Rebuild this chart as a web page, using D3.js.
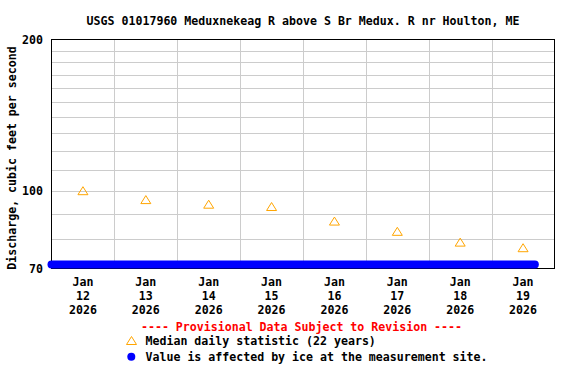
<!DOCTYPE html>
<html>
<head>
<meta charset="utf-8">
<script src="https://cdn.jsdelivr.net/npm/d3@7"></script>
<style>
    body { margin: 0; background: #ffffff; }
    text { font-family: "DejaVu Sans Mono", monospace; font-weight: bold; font-size: 11.6px; }
</style>
</head>
<body>
<svg id="chart" width="576" height="384"></svg>
<script>
//日期与中位数
const days = ["2026-01-12", "2026-01-13", "2026-01-14", "2026-01-15",
    "2026-01-16", "2026-01-17", "2026-01-18", "2026-01-19"];
const medianValues = [100, 96, 94, 93, 87, 83, 79, 77];

//受冰影响的时段
const iceStart = "2026-01-12T00:00";
const iceEnd = "2026-01-19T16:30";

//y轴
const yTickLabels = [70, 100, 200];
const yGridValues = [80, 90, 100, 110, 120, 130, 140, 150, 160, 170, 180, 190];

const svg = d3.select("#chart");
const plotLeft = 51.5, plotRight = 554.5, plotTop = 39.5, plotBottom = 268.5;

const parseDay = d3.timeParse("%Y-%m-%d");
const parseTime = d3.timeParse("%Y-%m-%dT%H:%M");

const x = d3.scaleTime()
    .domain([parseDay(days[0]), d3.timeDay.offset(parseDay(days[days.length - 1]), 1)])
    .range([plotLeft, plotRight]);

const y = d3.scaleLog()
    .domain([70, 200])
    .range([plotBottom, plotTop]);

const noon = d => d3.timeHour.offset(parseDay(d), 12);

//网格线
svg.append("g")
    .selectAll("line")
    .data(yGridValues)
    .join("line")
    .attr("x1", plotLeft)
    .attr("x2", plotRight)
    .attr("y1", d => Math.round(y(d)) + 0.5)
    .attr("y2", d => Math.round(y(d)) + 0.5)
    .attr("stroke", "#cccccc");

svg.append("g")
    .selectAll("line")
    .data(days.slice(1))
    .join("line")
    .attr("x1", d => Math.round(x(parseDay(d))) + 0.5)
    .attr("x2", d => Math.round(x(parseDay(d))) + 0.5)
    .attr("y1", plotTop)
    .attr("y2", plotBottom)
    .attr("stroke", "#cccccc");

//边框
svg.append("rect")
    .attr("x", plotLeft)
    .attr("y", plotTop)
    .attr("width", plotRight - plotLeft)
    .attr("height", plotBottom - plotTop)
    .attr("fill", "none")
    .attr("stroke", "#000000");

//冰影响数据
svg.append("line")
    .attr("x1", x(parseTime(iceStart)))
    .attr("x2", x(parseTime(iceEnd)))
    .attr("y1", y(70) - 4)
    .attr("y2", y(70) - 4)
    .attr("stroke", "#0000ff")
    .attr("stroke-width", 8)
    .attr("stroke-linecap", "round");

//中位数三角形
const tri = "M0,-4L5,4L-5,4Z";
svg.append("g")
    .selectAll("path")
    .data(days)
    .join("path")
    .attr("d", tri)
    .attr("transform", (d, i) => `translate(${x(noon(d))},${y(medianValues[i])})`)
    .attr("fill", "none")
    .attr("stroke", "#ffa500");

//y轴刻度
svg.append("g")
    .selectAll("text")
    .data(yTickLabels)
    .join("text")
    .attr("x", 43)
    .attr("y", d => y(d))
    .attr("dy", "0.36em")
    .attr("text-anchor", "end")
    .text(d => d);

//x轴刻度
const fmtLines = [d3.timeFormat("%b"), d3.timeFormat("%d"), d3.timeFormat("%Y")];
const xLabels = svg.append("g")
    .selectAll("text")
    .data(days)
    .join("text")
    .attr("text-anchor", "middle");

xLabels.selectAll("tspan")
    .data(d => fmtLines.map(f => ({ t: f(parseDay(d)), x: x(noon(d)) })))
    .join("tspan")
    .attr("x", d => d.x)
    .attr("y", (d, i) => 286 + i * 13.8)
    .text(d => d.t);

//标题
svg.append("text")
    .attr("x", (plotLeft + plotRight) / 2)
    .attr("y", 25)
    .attr("text-anchor", "middle")
    .text("USGS 01017960 Meduxnekeag R above S Br Medux. R nr Houlton, ME");

svg.append("text")
    .attr("transform", `translate(15.5,${(plotTop + plotBottom) / 2 + 4}) rotate(-90)`)
    .attr("text-anchor", "middle")
    .text("Discharge, cubic feet per second");

//图例
svg.append("text")
    .attr("x", 301.5)
    .attr("y", 330.7)
    .attr("text-anchor", "middle")
    .attr("fill", "#ff0000")
    .text("---- Provisional Data Subject to Revision ----");

svg.append("path")
    .attr("d", tri)
    .attr("transform", "translate(131.5,340.5)")
    .attr("fill", "none")
    .attr("stroke", "#ffa500");

svg.append("text")
    .attr("x", 145.5)
    .attr("y", 344.7)
    .text("Median daily statistic (22 years)");

svg.append("circle")
    .attr("cx", 131.3)
    .attr("cy", 356.7)
    .attr("r", 4)
    .attr("fill", "#0000ff");

svg.append("text")
    .attr("x", 145.5)
    .attr("y", 360.7)
    .text("Value is affected by ice at the measurement site.");
</script>
</body>
</html>
